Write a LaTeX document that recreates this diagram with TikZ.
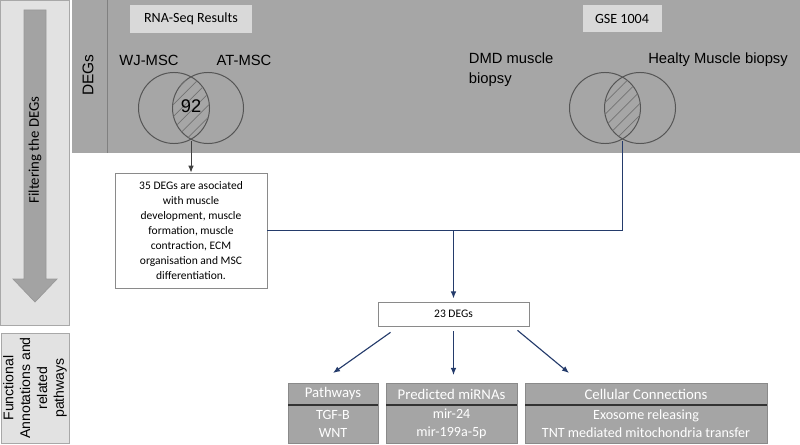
\documentclass[tikz,border=0pt]{standalone}
\usepackage{fontspec}
\setmainfont{Carlito}
\newfontfamily\arialf{Liberation Sans}
\usepackage{tikz}
\usetikzlibrary{positioning,calc,patterns.meta,arrows.meta}
\definecolor{bandgray}{HTML}{A6A6A6}
\definecolor{panelgray}{HTML}{E2E2E2}
\definecolor{panelline}{HTML}{A8A8A8}
\definecolor{labelgray}{HTML}{D9D9D9}
\definecolor{arrowgray}{HTML}{A3A3A3}
\definecolor{venncol}{HTML}{555555}
\definecolor{boxgray}{HTML}{A5A5A5}
\definecolor{boxline}{HTML}{8A8A8A}
\definecolor{navy}{HTML}{243B6B}

\begin{document}
\begin{tikzpicture}[x=0.025cm,y=-0.025cm,
    panel/.style={fill=panelgray, draw=panelline, line width=0.6pt},
    lbl/.style={fill=labelgray, inner sep=0pt, font=\fontsize{10}{12}\selectfont},
    venn/.style={circle, draw=venncol, line width=0.7pt, minimum size=1.775cm, inner sep=0pt},
    vtxt/.style={font=\arialf\fontsize{10.5}{14}\selectfont},
    whitebox/.style={draw=boxline, fill=white, line width=0.5pt, align=center},
    hdr/.style={fill=boxgray, draw=boxline, text=white, line width=0.5pt, minimum height=0.55cm, inner sep=0pt, outer sep=0pt, font=\fontsize{10.5}{12}\selectfont},
    bodybox/.style={hdr, minimum height=0.95cm, align=center, font=\fontsize{10}{13}\selectfont},
    divider/.style={draw=black!80, line width=1pt},
    navyarr/.style={draw=navy, line width=0.8pt, -{Latex[length=5pt,width=4pt]}}]
    \useasboundingbox (0,0) rectangle (800,445);

    % left side panels
    \draw[panel] (0.5,0.5) rectangle (69,325);
    \draw[panel] (1,333) rectangle (69,443);
    \filldraw[fill=arrowgray, draw=black!40, line width=0.5pt] (24,10) -- (46,10) -- (46,279) -- (57,279) -- (35,302) -- (13,279) -- (24,279) -- cycle;
    \node[rotate=90, font=\fontsize{10.5}{12}\selectfont] (filt) at (35,150) {Filtering the DEGs};
    \node[rotate=90, align=center, font=\arialf\fontsize{10}{12}\selectfont] (func) at (35,388) {Functional\\Annotations and\\related\\pathways};

    % DEGs band
    \fill[bandgray] (72,0) rectangle (800,153);
    \draw[black!50, line width=0.6pt] (107,0) -- (107,153);
    \node[rotate=90, font=\arialf\fontsize{11}{13}\selectfont] (degs-lbl) at (88,75) {DEGs};
    \node[lbl, minimum width=3.05cm, minimum height=0.7cm] (rna) at (191,19) {RNA-Seq Results};
    \node[lbl, minimum width=1.975cm, minimum height=0.675cm] (gse) at (622,18.5) {GSE 1004};

    % venn RNA-Seq
    \node[venn] (wj) at (174,108) {};
    \node[venn] (at) at (208,108) {};
    \begin{scope}
        \clip (wj.center) circle[radius=0.8875cm];
        \fill[pattern={Lines[angle=45,distance=6pt,line width=0.5pt]}, pattern color=black!55] (at.center) circle[radius=0.8875cm];
    \end{scope}
    \node[font=\arialf\fontsize{13}{15}\selectfont] (n92) at (191,106) {92};
    \node[vtxt] (wj-lbl) at (149,60) {WJ-MSC};
    \node[vtxt] (at-lbl) at (244,60) {AT-MSC};
    \coordinate (wj-at) at (191,141);

    % venn GSE
    \node[venn] (dmd) at (605,108) {};
    \node[venn] (hm) at (640,108) {};
    \begin{scope}
        \clip (dmd.center) circle[radius=0.8875cm];
        \fill[pattern={Lines[angle=45,distance=6pt,line width=0.5pt]}, pattern color=black!55] (hm.center) circle[radius=0.8875cm];
    \end{scope}
    \node[vtxt, anchor=west, align=left] (dmd-lbl) at (464,70) {DMD muscle\\biopsy};
    \node[vtxt] (hm-lbl) at (718,60) {Healty Muscle biopsy};
    \coordinate (dmd-hm) at (622.5,141);

    % filtering
    \node[whitebox, minimum width=3.8cm, minimum height=2.875cm, font=\fontsize{8.2}{10.6}\selectfont] (assoc) at (191,230.5) {35 DEGs are asociated\\with muscle\\development, muscle\\formation, muscle\\contraction, ECM\\organisation and MSC\\differentiation.};
    \node[whitebox, minimum width=3.775cm, minimum height=0.6cm, font=\fontsize{8.2}{10}\selectfont] (degs) at (453.5,314) {23 DEGs};

    \draw[black!75, line width=0.7pt, -{Latex[length=5pt,width=4pt]}] (wj-at) -- (assoc.north);
    \draw[navy, line width=0.8pt] (dmd-hm) |- (assoc.east);
    \draw[navyarr] (assoc.east -| degs.north) -- ([yshift=0.08cm]degs.north);

    % annotations
    \node[hdr, minimum width=2.25cm, anchor=north west] (pw-h) at (288,383) {Pathways};
    \node[bodybox, minimum width=2.25cm, below=0pt of pw-h] (pw-b) {TGF-B\\WNT};
    \node[hdr, minimum width=3.275cm, anchor=north west] (mi-h) at (386,383) {Predicted miRNAs};
    \node[bodybox, minimum width=3.275cm, below=0pt of mi-h] (mi-b) {mir-24\\mir-199a-5p};
    \node[hdr, minimum width=6.05cm, anchor=north west] (cc-h) at (525,383) {Cellular Connections};
    \node[bodybox, minimum width=6.05cm, below=0pt of cc-h] (cc-b) {Exosome releasing\\TNT mediated mitochondria transfer};
    \draw[divider] (pw-h.south west) -- (pw-h.south east);
    \draw[divider] (mi-h.south west) -- (mi-h.south east);
    \draw[divider] (cc-h.south west) -- (cc-h.south east);

    \draw[navyarr] ([shift={(-63,6)}]degs.south) -- ([shift={(0,-10)}]pw-h.north);
    \draw[navyarr] ([shift={(0,5)}]degs.south) -- ([shift={(0,-8)}]degs.south |- mi-h.north);
    \draw[navyarr] ([shift={(64,4)}]degs.south) -- ([shift={(-77,-10)}]cc-h.north);
\end{tikzpicture}
\end{document}
